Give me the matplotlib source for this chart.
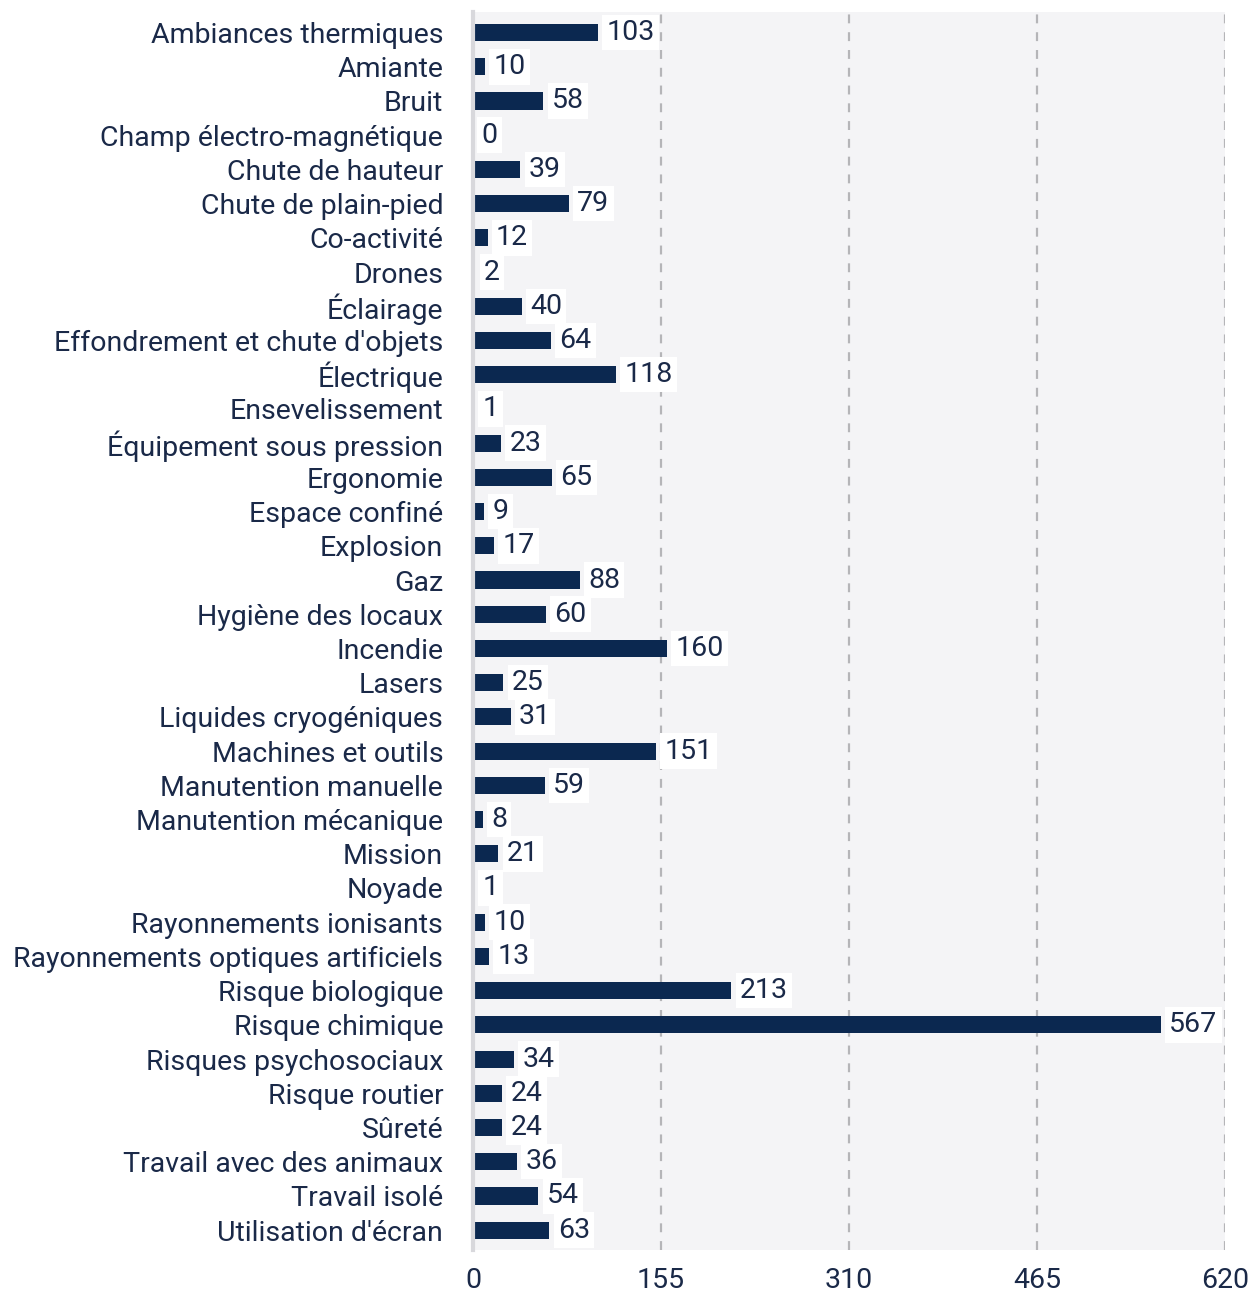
import matplotlib
matplotlib.use("Agg")
import matplotlib.pyplot as plt

categories = [
    "Ambiances thermiques", "Amiante", "Bruit", "Champ électro-magnétique",
    "Chute de hauteur", "Chute de plain-pied", "Co-activité", "Drones",
    "Éclairage", "Effondrement et chute d'objets", "Électrique",
    "Ensevelissement", "Équipement sous pression", "Ergonomie",
    "Espace confiné", "Explosion", "Gaz", "Hygiène des locaux", "Incendie",
    "Lasers", "Liquides cryogéniques", "Machines et outils",
    "Manutention manuelle", "Manutention mécanique", "Mission", "Noyade",
    "Rayonnements ionisants", "Rayonnements optiques artificiels",
    "Risque biologique", "Risque chimique", "Risques psychosociaux",
    "Risque routier", "Sûreté", "Travail avec des animaux", "Travail isolé",
    "Utilisation d'écran",
]
counts = [103, 10, 58, 0, 39, 79, 12, 2, 40, 64, 118, 1, 23, 65, 9, 17, 88,
          60, 160, 25, 31, 151, 59, 8, 21, 1, 10, 13, 213, 567, 34, 24, 24,
          36, 54, 63]
xticks = [0, 155, 310, 465, 620]

navy = "#0b2850"
text_col = "#1a2948"
plt.rcParams["font.family"] = ["Roboto", "DejaVu Sans"]
plt.rcParams["font.weight"] = "normal"

fig = plt.figure(figsize=(12.5, 12.92), dpi=100)
ax = fig.add_axes([0.3784, 0.0325, 0.6016, 0.9582])
ax.set_facecolor("#f4f4f6")

y = list(range(len(categories)))
ax.barh(y, counts, height=0.5, color=navy, zorder=3)
for yi, v in zip(y, counts):
    ax.text(v + 7, yi, str(v), va="center", ha="left", fontsize=20.5,
            color=text_col, zorder=4,
            bbox=dict(facecolor="white", edgecolor="none", pad=3))

ax.set_xlim(0, 620)
ax.set_ylim(len(categories) - 0.42, -0.6)
ax.set_xticks(xticks)
ax.set_xticklabels([str(t) for t in xticks])
ax.set_yticks(y)
ax.set_yticklabels(categories)
ax.tick_params(axis="both", length=0, labelsize=20.5, labelcolor=text_col)
ax.tick_params(axis="y", pad=21.5)
ax.tick_params(axis="x", pad=12)
ax.xaxis.grid(True, linestyle=(0, (4, 4)), color="#b5b5b8", linewidth=1.6, zorder=1)
for s in ["top", "right", "bottom"]:
    ax.spines[s].set_visible(False)
ax.spines["left"].set_color("#d8d8dc")
ax.spines["left"].set_linewidth(3)
ax.spines["left"].set_zorder(3.5)

fig.savefig("out.png", dpi=100)
